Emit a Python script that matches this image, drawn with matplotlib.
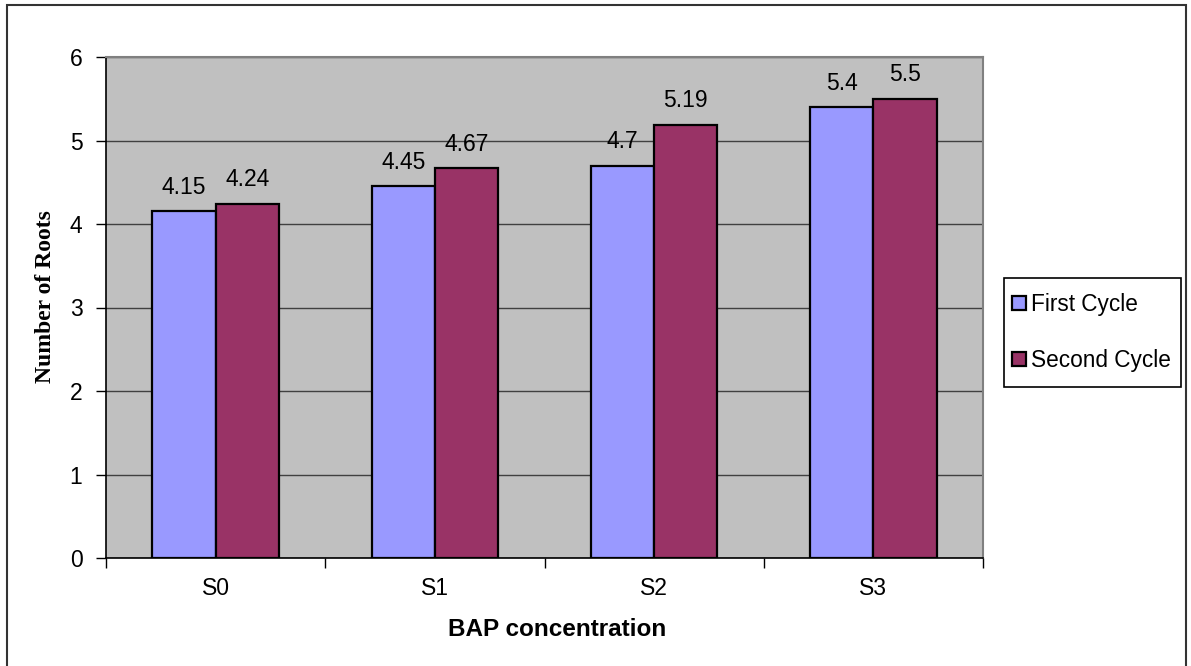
import matplotlib
matplotlib.use("Agg")
import matplotlib.pyplot as plt
from matplotlib.patches import Rectangle
import numpy as np

categories = ["S0", "S1", "S2", "S3"]
series_names = ["First Cycle", "Second Cycle"]
first_cycle = [4.15, 4.45, 4.7, 5.4]
second_cycle = [4.24, 4.67, 5.19, 5.5]
first_labels = ["4.15", "4.45", "4.7", "5.4"]
second_labels = ["4.24", "4.67", "5.19", "5.5"]
y_ticks = [0, 1, 2, 3, 4, 5, 6]

W, H = 1191, 666
fig = plt.figure(figsize=(W / 100, H / 100), dpi=100)
plt.rcParams['font.family'] = ['Liberation Sans', 'DejaVu Sans']

ax = fig.add_axes([106 / W, 1 - 558 / H, (983 - 106) / W, (558 - 57) / H])
ax.set_facecolor("#C0C0C0")

x = np.arange(len(categories))
bw = 0.288
c1, c2 = "#9999FF", "#993366"
b1 = ax.bar(x - bw / 2, first_cycle, bw, color=c1, edgecolor="black", linewidth=1.6, zorder=3, label=series_names[0])
b2 = ax.bar(x + bw / 2, second_cycle, bw, color=c2, edgecolor="black", linewidth=1.6, zorder=3, label=series_names[1])

for rect, lab in zip(b1, first_labels):
    ax.annotate(lab, (rect.get_x() + rect.get_width() / 2, rect.get_height()),
                xytext=(0, 9), textcoords="offset points", ha="center", va="bottom", fontsize=16.5)
for rect, lab in zip(b2, second_labels):
    ax.annotate(lab, (rect.get_x() + rect.get_width() / 2, rect.get_height()),
                xytext=(0, 9), textcoords="offset points", ha="center", va="bottom", fontsize=16.5)

ax.set_xlim(-0.5, len(categories) - 0.5)
ax.set_ylim(0, 6)
ax.set_yticks(y_ticks)
ax.set_yticklabels([str(v) for v in y_ticks], fontsize=16.5)
ax.tick_params(axis="y", direction="out", length=7, width=1, pad=10)
ax.yaxis.grid(True, color="#404040", linewidth=1, zorder=1)
ax.set_axisbelow(True)

ax.set_xticks(np.arange(len(categories) + 1) - 0.5)
ax.set_xticklabels([])
ax.tick_params(axis="x", which="major", direction="out", length=7, width=1)
ax.set_xticks(x, minor=True)
ax.set_xticklabels(categories, minor=True, fontsize=16.5)
ax.tick_params(axis="x", which="minor", length=0, pad=14)

for s in ["left", "bottom"]:
    ax.spines[s].set_color("black")
    ax.spines[s].set_linewidth(1.2)
for s in ["top", "right"]:
    ax.spines[s].set_color("#808080")
    ax.spines[s].set_linewidth(1.5)

fig.text(557 / W, 1 - 630 / H, "BAP concentration", ha="center", va="center",
         fontsize=17.5, fontweight="bold")
fig.text(46 / W, 1 - 297 / H, "Number of Roots", ha="center", va="center", rotation=90,
         fontsize=17, fontweight="bold", family=["Liberation Serif", "DejaVu Serif"])

# legend entries (frame drawn separately to match the box size)
leg = fig.legend(handles=[b1, b2], labels=series_names, loc="center left",
                 bbox_to_anchor=(1012 / W, 1 - 332.5 / H), fontsize=16.3, frameon=False,
                 handlelength=0.6, handleheight=0.6, handletextpad=0.25, labelspacing=1.45,
                 borderpad=0, borderaxespad=0)
fig.patches.append(Rectangle((1004 / W, 1 - 387 / H), (1181 - 1004) / W, (387 - 278) / H,
                             transform=fig.transFigure, facecolor="white",
                             edgecolor="black", linewidth=1.2, zorder=0))

fig.patches.append(Rectangle((7 / W, -0.05), (1186 - 7) / W, 1.05 - 5 / H, transform=fig.transFigure,
                             fill=False, edgecolor="#333333", linewidth=1.5))

fig.savefig("out.png", dpi=100)
